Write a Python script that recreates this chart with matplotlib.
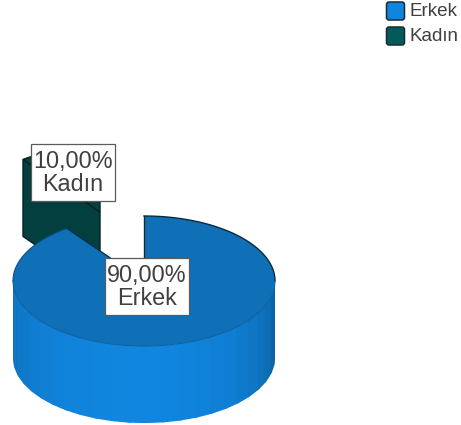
import numpy as np
import matplotlib
matplotlib.use("Agg")
import matplotlib.pyplot as plt
from matplotlib.patches import Polygon, Rectangle, FancyBboxPatch
from matplotlib.colors import to_rgb

categories = ["Erkek", "Kadın"]
values = [90.0, 10.0]
legend_colors = ["#1085DF", "#045A5A"]

plt.rcParams["font.family"] = ["Liberation Sans", "DejaVu Sans"]
W, H = 461, 425
fig = plt.figure(figsize=(W / 100, H / 100), dpi=100)
ax = fig.add_axes([0, 0, 1, 1])
ax.set_xlim(0, W)
ax.set_ylim(H, 0)
ax.axis("off")

CX, CY, RX, RY, DEPTH = 144.0, 281.0, 131.0, 65.0, 77.0
EXPLODE = (-44.0, -69.0)
TOP = "#0F70B8"
KTOP = "#04403F"
KSIDE = "#033F3E"
LINE = "#0A2A3A"


def pt(theta, cx=CX, cy=CY):
    """theta in degrees, clockwise from 12 o'clock, squashed to the pie ellipse."""
    t = np.radians(theta)
    return np.column_stack([cx + RX * np.sin(t), cy - RY * np.cos(t)])


span_erkek = 360.0 * values[0] / sum(values)
cx2, cy2 = CX + EXPLODE[0], CY + EXPLODE[1]

# Kadin slice: exploded
arc2 = pt(np.linspace(span_erkek, 360, 40), cx2, cy2)
left2 = arc2[0]
apex2 = np.array([cx2, cy2])
face = np.array([left2, apex2, apex2 + [0, DEPTH], left2 + [0, DEPTH]])
ax.add_patch(Polygon(face, closed=True, fc=KSIDE, ec="#02211F", lw=1.0, zorder=2))
ax.add_patch(Polygon(np.vstack([arc2, apex2]), closed=True, fc=KTOP, ec="#02211F", lw=1.0, zorder=3))

# Erkek side wall: shaded strips across the front half
edges = np.linspace(90, 270, 25)
c_bright = np.array(to_rgb("#1086E0"))
c_left = np.array(to_rgb("#0F6FB8"))
c_right = np.array(to_rgb("#0A5C99"))
# painted left to right, each strip reaching under its neighbour, so no seams show
for a, b in zip(edges[:-1][::-1], edges[1:][::-1]):
    th = np.linspace(a - 2.0 if a > 90 else a, b, 8)
    upper = pt(th)
    lower = upper + [0, DEPTH]
    mid = (a + b) / 2
    u = (mid - 180) / 90
    w = min(1.0, abs(u) ** 2.0)
    col = c_bright * (1 - w) + (c_left if u > 0 else c_right) * w
    ax.add_patch(Polygon(np.vstack([upper, lower[::-1]]), closed=True, fc=col, ec="none", zorder=4))

# Erkek top
arc1 = pt(np.linspace(0, span_erkek, 240))
center = np.array([[CX, CY]])
ax.add_patch(Polygon(np.vstack([center, arc1]), closed=True, fc=TOP, ec="none", zorder=5))
back = pt(np.linspace(0, 90, 60))
ax.plot(back[:, 0], back[:, 1], color=LINE, lw=1.0, zorder=6)
ax.plot([CX, CX], [CY - RY, CY], color=LINE, lw=1.0, zorder=6)
front = pt(np.linspace(90, 270, 120))
ax.plot(front[:, 0], front[:, 1], color="#0C5E9E", lw=0.7, zorder=6)
rest = pt(np.linspace(270, span_erkek, 40))
ax.plot(rest[:, 0], rest[:, 1], color="#0A4F86", lw=0.8, zorder=6)
ax.plot([arc1[-1, 0], CX], [arc1[-1, 1], CY], color="#0A2F48", lw=1.0, zorder=6)


def label(x0, y0, w, h, text):
    ax.add_patch(Rectangle((x0 + 1.2, y0 + 1.2), w, h, fc="#6E6E6E", ec="none", zorder=7))
    ax.add_patch(Rectangle((x0, y0), w, h, fc="white", ec="#5A5A5A", lw=0.9, zorder=8))
    ax.text(x0 + w / 2, y0 + h / 2 + 0.5, text, ha="center", va="center", fontsize=16.8,
            color="#404040", linespacing=1.03, zorder=9)


boxes = [(105, 258, 84, 57), (31, 144, 84, 57)]
for cat, val, (x0, y0, w, h) in zip(categories, values, boxes):
    label(x0, y0, w, h, f"{val:.2f}".replace(".", ",") + f"%\n{cat}")

# Legend
for i, (cat, col) in enumerate(zip(categories, legend_colors)):
    y0 = 2.0 + 25 * i
    ax.add_patch(FancyBboxPatch((386.5, y0), 18, 18, boxstyle="round,pad=0,rounding_size=2.5",
                                fc=col, ec="#1A2A33", lw=1.1, zorder=3))
    ax.text(409, y0 + 9.5, cat, ha="left", va="center", fontsize=13.6, color="#404040", zorder=3)

fig.savefig("out.png", dpi=100, facecolor="white")
